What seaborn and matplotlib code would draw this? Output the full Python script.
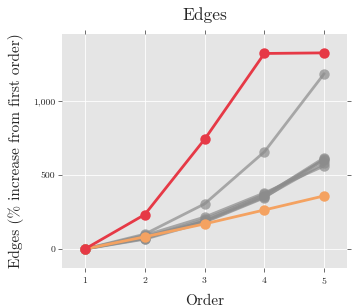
import pandas as pd
import numpy as np
import matplotlib
matplotlib.use("Agg")
import matplotlib.pyplot as plt
import matplotlib.ticker as mticker
import seaborn as sns

# Données
orders = [1, 2, 3, 4, 5]
red_vals = [0, 232, 739, 1318, 1322]
orange_vals = [0, 82, 169, 263, 358]
gray_top = [0, 100, 304, 655, 1182]
gray_a = [0, 70, 190, 360, 615]
gray_b = [0, 75, 200, 368, 600]
gray_c = [0, 85, 185, 350, 578]
gray_d = [0, 92, 215, 378, 560]
gray_e = [0, 66, 180, 345, 605]
y_ticks = [0, 500, 1000]

sns.set_style("darkgrid", {"axes.facecolor": "#e5e5e5", "grid.color": "white"})
plt.rcParams["font.family"] = "serif"
plt.rcParams["font.serif"] = ["cmr10", "DejaVu Serif"]
plt.rcParams["axes.formatter.use_mathtext"] = True
plt.rcParams["axes.unicode_minus"] = False

fig, ax = plt.subplots(figsize=(3.54, 3.08), dpi=100)

grays = [gray_top, gray_a, gray_b, gray_c, gray_d, gray_e]
for g in grays:
    sns.lineplot(x=orders, y=g, ax=ax, color="#8c8c8c", alpha=0.7, lw=2.0,
                 marker="o", markersize=7.5, markeredgewidth=0)
sns.lineplot(x=orders, y=orange_vals, ax=ax, color="#f4a261", lw=2.0,
             marker="o", markersize=7.5, markeredgewidth=0)
sns.lineplot(x=orders, y=red_vals, ax=ax, color="#e63946", lw=2.0,
             marker="o", markersize=7.5, markeredgewidth=0)

ax.set_xlim(0.615, 5.38)
ax.set_ylim(-128, 1450)
ax.set_xticks(orders)
ax.set_yticks(y_ticks)
ax.yaxis.set_major_formatter(mticker.FuncFormatter(lambda v, p: f"{v:,.0f}"))

for s in ax.spines.values():
    s.set_visible(False)
ax.tick_params(axis="both", which="both", direction="out", length=3, width=0.6,
               color="#555555", labelsize=7, top=True, right=True,
               bottom=True, left=True, labeltop=False, labelright=False, pad=2)
ax.grid(True, color="white", lw=0.6)

ax.set_title("Edges", fontsize=12.5, pad=10)
ax.set_xlabel("Order", fontsize=11, labelpad=6)
ax.set_ylabel("Edges (% increase from first order)", fontsize=11, labelpad=6)

fig.subplots_adjust(left=0.175, right=0.98, top=0.89, bottom=0.13)
fig.savefig("out.png", dpi=100)
plt.close(fig)
